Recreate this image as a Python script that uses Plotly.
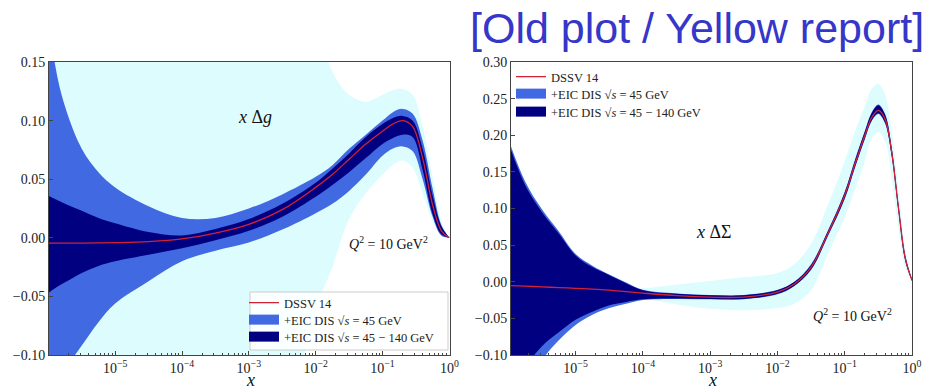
import plotly.graph_objects as go

# ---------------- data (log10 x grid) ----------------
# Left panel: x Δg
lg_left = [-6, -5.9, -5.75, -5.5, -5.25, -5, -4.5, -4, -3.5, -3, -2.5, -2, -1.75, -1.5,
           -1.25, -1, -0.85, -0.7, -0.55, -0.4, -0.25, -0.12, 0]
g_dssv = [-0.0045, -0.0045, -0.0045, -0.0045, -0.0044, -0.0042, -0.0033, -0.0010, 0.004, 0.0115,
          0.024, 0.043, 0.054, 0.067, 0.080, 0.091, 0.097, 0.100, 0.095, 0.068, 0.028, 0.006, 0.0]
g_dark_hi = [0.036, 0.033, 0.029, 0.023, 0.017, 0.0125, 0.005, 0.002, 0.0075, 0.016, 0.029, 0.047,
             0.059, 0.072, 0.086, 0.097, 0.102, 0.104, 0.100, 0.076, 0.036, 0.010, 0.0]
g_dark_lo = [-0.047, -0.043, -0.038, -0.030, -0.024, -0.020, -0.0145, -0.009, -0.002, 0.006, 0.018,
             0.035, 0.045, 0.056, 0.068, 0.080, 0.085, 0.088, 0.086, 0.058, 0.020, 0.003, 0.0]
g_mid_hi = [0.20, 0.148, 0.112, 0.076, 0.056, 0.043, 0.027, 0.017, 0.017, 0.025, 0.037, 0.052,
            0.062, 0.076, 0.088, 0.100, 0.107, 0.110, 0.106, 0.083, 0.042, 0.011, 0.0]
g_mid_lo = [-0.14, -0.125, -0.112, -0.092, -0.072, -0.056, -0.037, -0.020, -0.011, -0.004, 0.007,
            0.021, 0.029, 0.040, 0.054, 0.070, 0.076, 0.078, 0.074, 0.050, 0.018, 0.002, 0.0]
g_unc_hi = [0.5, 0.5, 0.5, 0.5, 0.5, 0.5, 0.5, 0.5, 0.5, 0.5, 0.32, 0.19, 0.142, 0.122, 0.116,
            0.122, 0.126, 0.127, 0.122, 0.095, 0.052, 0.014, 0.0]
g_unc_lo = [-0.5, -0.5, -0.5, -0.5, -0.5, -0.5, -0.5, -0.5, -0.5, -0.5, -0.20, -0.062, -0.025,
            0.016, 0.038, 0.054, 0.062, 0.066, 0.060, 0.038, 0.014, 0.002, 0.0]

# Right panel: x ΔΣ
lg_right = [-6, -5.75, -5.5, -5.25, -5, -4.75, -4.5, -4.25, -4, -3.5, -3, -2.5, -2, -1.75, -1.5,
            -1.25, -1, -0.85, -0.7, -0.6, -0.5, -0.4, -0.3, -0.2, -0.1, 0]
s_dssv = [-0.005, -0.006, -0.007, -0.008, -0.009, -0.010, -0.0115, -0.0135, -0.0155, -0.019, -0.021,
          -0.021, -0.014, -0.003, 0.020, 0.066, 0.118, 0.160, 0.200, 0.224, 0.234, 0.222, 0.176,
          0.100, 0.032, 0.002]
s_dark_hi = [0.190, 0.132, 0.095, 0.066, 0.036, 0.020, 0.009, -0.002, -0.0115, -0.0165, -0.0185,
             -0.0185, -0.0115, -0.0005, 0.023, 0.069, 0.122, 0.165, 0.205, 0.230, 0.241, 0.228,
             0.181, 0.104, 0.035, 0.003]
s_dark_lo = [-0.170, -0.118, -0.088, -0.069, -0.052, -0.041, -0.032, -0.0275, -0.024, -0.023, -0.0235,
             -0.0235, -0.0165, -0.0055, 0.017, 0.063, 0.114, 0.156, 0.196, 0.220, 0.230, 0.217,
             0.171, 0.096, 0.029, 0.001]
s_mid_hi = [0.195, 0.137, 0.099, 0.069, 0.038, 0.022, 0.010, -0.001, -0.011, -0.016, -0.018, -0.018,
            -0.011, 0.0, 0.024, 0.070, 0.123, 0.166, 0.206, 0.231, 0.242, 0.229, 0.182, 0.105,
            0.036, 0.003]
s_mid_lo = [-0.25, -0.165, -0.108, -0.080, -0.059, -0.045, -0.036, -0.030, -0.025, -0.0235, -0.024,
            -0.024, -0.017, -0.006, 0.016, 0.062, 0.113, 0.155, 0.195, 0.219, 0.229, 0.216, 0.170,
            0.095, 0.028, 0.001]
s_unc_hi = [-0.004, -0.005, -0.006, -0.007, -0.008, -0.009, -0.0105, -0.011, -0.009, -0.004, 0.001,
            0.006, 0.012, 0.024, 0.052, 0.105, 0.165, 0.205, 0.240, 0.263, 0.270, 0.255, 0.205,
            0.125, 0.045, 0.003]
s_unc_lo = [-0.006, -0.007, -0.008, -0.009, -0.010, -0.011, -0.0125, -0.016, -0.022, -0.031, -0.037,
            -0.039, -0.036, -0.030, -0.012, 0.038, 0.088, 0.125, 0.165, 0.195, 0.204, 0.192, 0.140,
            0.072, 0.018, 0.001]

x_tick_vals = [1e-5, 1e-4, 1e-3, 1e-2, 1e-1, 1]
x_tick_text = ["10<sup>−5</sup>", "10<sup>−4</sup>", "10<sup>−3</sup>", "10<sup>−2</sup>",
               "10<sup>−1</sup>", "10<sup>0</sup>"]
y_left_ticks = [-0.10, -0.05, 0.00, 0.05, 0.10, 0.15]
y_right_ticks = [-0.10, -0.05, 0.00, 0.05, 0.10, 0.15, 0.20, 0.25, 0.30]

names = ["DSSV 14", "+EIC DIS √<i>s</i> = 45 GeV", "+EIC DIS √<i>s</i> = 45 − 140 GeV"]

# ---------------- style ----------------
C_UNC = "#ddfcfe"
C_MID = "#4169e1"
C_DARK = "#000080"
C_RED = "#d42234"
SERIF = "Liberation Serif, DejaVu Serif, serif"
W, H = 927, 389

fig = go.Figure()


def band(xs, lo, hi, color, xa, ya):
    fig.add_trace(go.Scatter(x=xs, y=lo, mode="lines", line=dict(width=0, shape="spline", color=color),
                             showlegend=False, hoverinfo="skip", xaxis=xa, yaxis=ya))
    fig.add_trace(go.Scatter(x=xs, y=hi, mode="lines", line=dict(width=0, shape="spline", color=color),
                             fill="tonexty", fillcolor=color, showlegend=False, hoverinfo="skip",
                             xaxis=xa, yaxis=ya))


xl = [10 ** v for v in lg_left]
xr = [10 ** v for v in lg_right]

# one single-entry legend per item so the rows can sit exactly where the reference has them
leg_ids = {("x", 0): "legend", ("x", 1): "legend2", ("x", 2): "legend3",
           ("x2", 0): "legend4", ("x2", 1): "legend5", ("x2", 2): "legend6"}

for xs, data, xa, ya in [
    (xl, (g_unc_lo, g_unc_hi, g_mid_lo, g_mid_hi, g_dark_lo, g_dark_hi, g_dssv), "x", "y"),
    (xr, (s_unc_lo, s_unc_hi, s_mid_lo, s_mid_hi, s_dark_lo, s_dark_hi, s_dssv), "x2", "y2"),
]:
    ulo, uhi, mlo, mhi, dlo, dhi, cen = data
    band(xs, ulo, uhi, C_UNC, xa, ya)
    band(xs, mlo, mhi, C_MID, xa, ya)
    band(xs, dlo, dhi, C_DARK, xa, ya)
    fig.add_trace(go.Scatter(x=xs, y=cen, mode="lines", line=dict(width=1.3, color=C_RED, shape="spline"),
                             name=names[0], legend=leg_ids[(xa, 0)], xaxis=xa, yaxis=ya))
    for k, (nm, col) in enumerate([(names[1], C_MID), (names[2], C_DARK)], start=1):
        fig.add_trace(go.Scatter(x=[None], y=[None], mode="lines", line=dict(width=10, color=col),
                                 name=nm, legend=leg_ids[(xa, k)], xaxis=xa, yaxis=ya))

ydom = [(H - 355) / H, (H - 62) / H]
axis_common = dict(showline=True, linecolor="#444", linewidth=1, mirror=True, ticks="inside",
                   tickcolor="#444", showgrid=False, zeroline=False, automargin=False,
                   tickfont=dict(family=SERIF, size=14, color="#222"))

leg_font = dict(family=SERIF, size=12.5, color="#222")
legends = {}
for (xa, k), lid in leg_ids.items():
    if xa == "x":
        lx, ly = 244, [303, 320, 337][k]
    else:
        lx, ly = 511, [77, 94, 112][k]
    legends[lid] = dict(x=lx / W, y=(H - ly) / H, xanchor="left", yanchor="middle",
                        bgcolor="rgba(0,0,0,0)", borderwidth=0, font=leg_font)

fig.update_layout(
    width=W, height=H, margin=dict(l=0, r=0, t=0, b=0, autoexpand=False),
    paper_bgcolor="white", plot_bgcolor="white", showlegend=True,
    xaxis=dict(domain=[49 / W, 450 / W], type="log", range=[-5.99, 0.01], anchor="y",
               tickvals=x_tick_vals, ticktext=x_tick_text, ticklen=4,
               minor=dict(ticks="inside", ticklen=2, tickcolor="#444", dtick="D1"), **axis_common),
    yaxis=dict(domain=ydom, range=[-0.10, 0.15], anchor="x", tickvals=y_left_ticks,
               tickformat=".2f", ticklen=4, **axis_common),
    xaxis2=dict(domain=[511 / W, 912 / W], type="log", range=[-5.96, 0.0], anchor="y2",
                tickvals=x_tick_vals, ticktext=x_tick_text, ticklen=4,
                minor=dict(ticks="inside", ticklen=2, tickcolor="#444", dtick="D1"), **axis_common),
    yaxis2=dict(domain=ydom, range=[-0.10, 0.30], anchor="x2", tickvals=y_right_ticks,
                tickformat=".2f", ticklen=4, **axis_common),
    **legends,
)

# legend frame of the left panel (matplotlib-style box)
fig.add_shape(type="rect", xref="paper", yref="paper", layer="above",
              x0=250 / W, x1=448 / W, y0=(H - 350) / H, y1=(H - 292) / H,
              fillcolor="rgba(255,255,255,0.85)", line=dict(color="#cccccc", width=1))

ann = [
    dict(text="[Old plot / Yellow report]", x=697 / W, y=(H - 28) / H,
         font=dict(family="Liberation Sans, Arial, sans-serif", size=43, color="#3636c8")),
    dict(text="<i>x</i> Δ<i>g</i>", x=255 / W, y=(H - 117) / H, font=dict(family=SERIF, size=18, color="#111")),
    dict(text="<i>Q</i><sup>2</sup> = 10 GeV<sup>2</sup>", x=388 / W, y=(H - 243) / H,
         font=dict(family=SERIF, size=14, color="#111")),
    dict(text="<i>x</i> ΔΣ", x=714 / W, y=(H - 232) / H, font=dict(family=SERIF, size=18, color="#111")),
    dict(text="<i>Q</i><sup>2</sup> = 10 GeV<sup>2</sup>", x=852 / W, y=(H - 315) / H,
         font=dict(family=SERIF, size=14, color="#111")),
    dict(text="<i>x</i>", x=250 / W, y=-2 / H, yanchor="bottom", borderpad=0,
         font=dict(family=SERIF, size=18, color="#111")),
    dict(text="<i>x</i>", x=712 / W, y=-2 / H, yanchor="bottom", borderpad=0,
         font=dict(family=SERIF, size=18, color="#111")),
]
for a in ann:
    a.setdefault("yanchor", "middle")
    fig.add_annotation(xref="paper", yref="paper", showarrow=False, xanchor="center", **a)

# the page's default 8px body margin would shift the whole figure; remove it
fig.write_html("out.html", config={"displayModeBar": False},
               post_script="document.body.style.margin='0px';")
